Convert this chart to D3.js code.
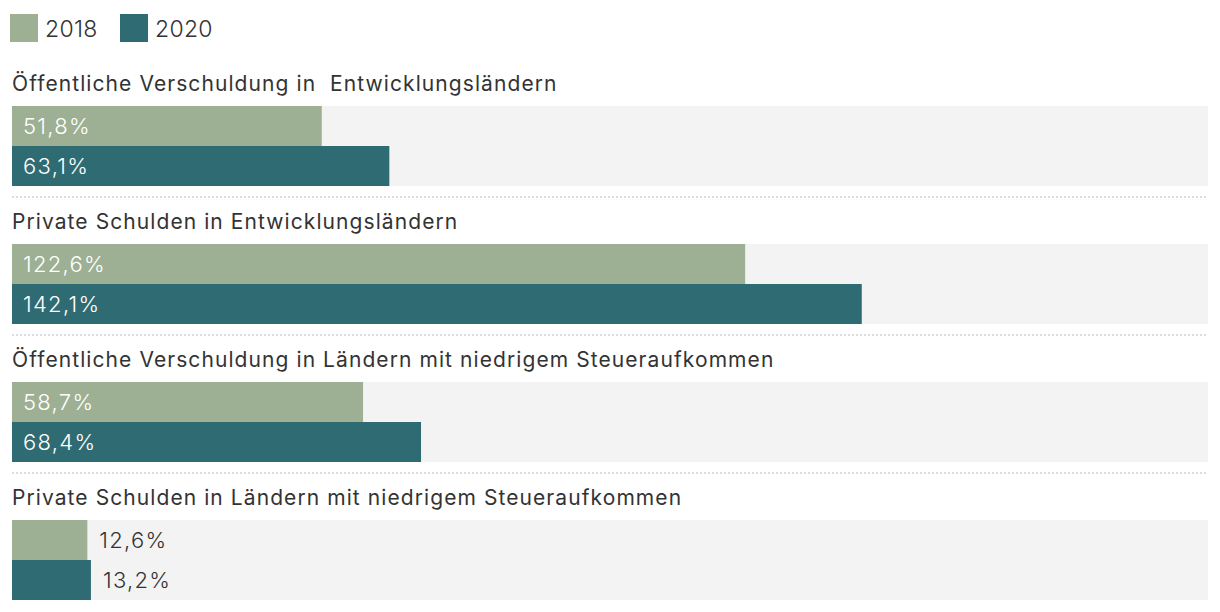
<!DOCTYPE html>
<html>
<head>
<meta charset="utf-8">
<script src="https://cdn.jsdelivr.net/npm/d3@7"></script>
<style>
  body { margin: 0; background: #fff; }
  svg text { font-family: Inter, "Noto Sans", sans-serif; white-space: pre; }
</style>
</head>
<body>
<div id="chart"></div>
<script>
// Data
const categories = [
    "Öffentliche Verschuldung in  Entwicklungsländern",
    "Private Schulden in Entwicklungsländern",
    "Öffentliche Verschuldung in Ländern mit niedrigem Steueraufkommen",
    "Private Schulden in Ländern mit niedrigem Steueraufkommen"
];
const years = ["2018", "2020"];
const values2018 = [51.8, 122.6, 58.7, 12.6];
const values2020 = [63.1, 142.1, 68.4, 13.2];

const width = 1220, height = 612;
const colors = d3.scaleOrdinal().domain(years).range(["#9db093", "#2f6b73"]);
const fmt = v => d3.format(".1f")(v).replace(".", ",") + "%";

const svg = d3.select("#chart").append("svg").attr("width", width).attr("height", height);

// Legend
const legend = svg.append("g").selectAll("g")
    .data(years).enter().append("g")
    .attr("transform", (d, i) => `translate(${10 + i * 110},14)`);
legend.append("rect").attr("width", 28).attr("height", 28).attr("fill", d => colors(d));
legend.append("text").attr("x", 35).attr("y", 23)
    .attr("font-size", "23px").attr("letter-spacing", "0.3px")
    .attr("fill", "#333").attr("font-weight", 300).text(d => d);

// Scales
const x = d3.scaleLinear().domain([0, 200]).range([12, 1208]);
const groupY = d3.scaleBand().domain(categories).range([60, 612]);
const barY = d3.scaleBand().domain(years).range([46, 126]);

const rows = categories.map((c, i) => ({
    name: c,
    bars: [{ year: "2018", value: values2018[i] }, { year: "2020", value: values2020[i] }]
}));

const groups = svg.append("g").selectAll("g")
    .data(rows).enter().append("g")
    .attr("transform", d => `translate(0,${groupY(d.name)})`);

groups.append("text")
    .attr("x", 12).attr("y", 30.5)
    .attr("font-size", "21px").attr("letter-spacing", "1.08px").attr("fill", "#333")
    .text(d => d.name);

// background track
groups.append("rect")
    .attr("x", x(0)).attr("y", barY.range()[0])
    .attr("width", x(200) - x(0)).attr("height", barY.range()[1] - barY.range()[0])
    .attr("fill", "#f3f3f3");

// separators
groups.filter((d, i) => i < categories.length - 1).append("line")
    .attr("x1", x(0)).attr("x2", x(200))
    .attr("y1", 137).attr("y2", 137)
    .attr("stroke", "#dcdcdc").attr("stroke-width", 2).attr("stroke-dasharray", "2,2");

const bars = groups.selectAll("g.bar")
    .data(d => d.bars).enter().append("g").attr("class", "bar");

bars.append("rect")
    .attr("x", x(0)).attr("y", d => barY(d.year))
    .attr("width", d => x(d.value) - x(0)).attr("height", barY.bandwidth())
    .attr("fill", d => colors(d.year));

bars.append("text")
    .attr("x", d => (x(d.value) - x(0) > 90) ? x(0) + 11 : x(d.value) + 12)
    .attr("y", d => barY(d.year) + 28)
    .attr("font-size", "22px").attr("letter-spacing", "1.3px").attr("font-weight", 300)
    .attr("fill", d => (x(d.value) - x(0) > 90) ? "#fff" : "#333")
    .text(d => fmt(d.value));
</script>
</body>
</html>
